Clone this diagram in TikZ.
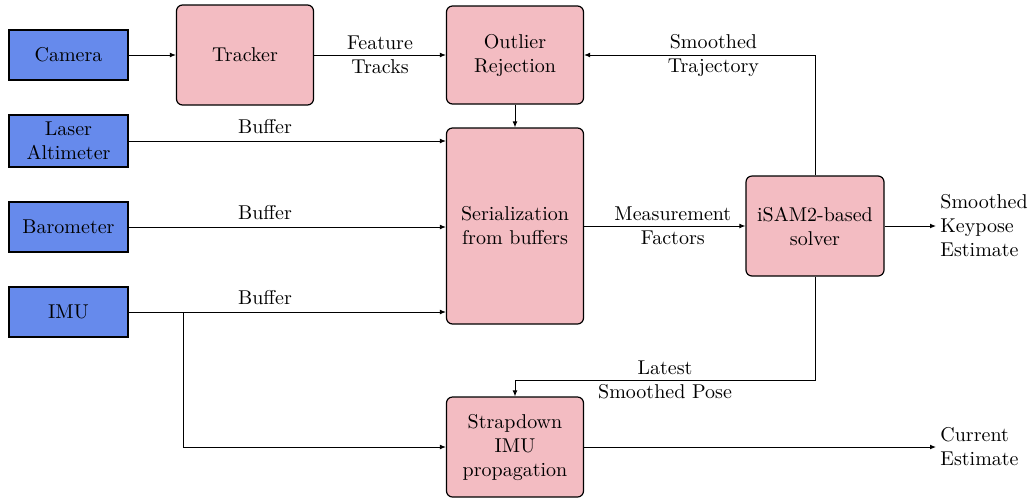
\documentclass[tikz,border=0pt]{standalone}
\usepackage{tikz}
\usetikzlibrary{arrows.meta,positioning}
\definecolor{sensorblue}{RGB}{102,138,236}
\definecolor{procpink}{RGB}{243,188,194}

\begin{document}
\begin{tikzpicture}[
    x=0.5pt, y=-0.5pt,
    sensor/.style={draw, line width=0.6pt, fill=sensorblue, minimum width=59.5pt,
                   minimum height=25pt, align=center, inner sep=1pt},
    proc/.style={draw, line width=0.6pt, fill=procpink, rounded corners=3pt,
                 minimum width=68.5pt, minimum height=50pt, align=center, inner sep=1pt},
    outtext/.style={align=left, anchor=west, inner sep=2pt},
    lbl/.style={align=center, inner sep=1pt},
    arr/.style={-{Latex[length=3pt,width=2.4pt]}, line width=0.45pt},
  ]
  \useasboundingbox (0,0) rectangle (1033,500);
  \node[sensor] (cam) at (68.5,55) {Camera};
  \node[sensor, minimum height=26pt] (laser) at (68.5,141) {Laser\\Altimeter};
  \node[sensor] (baro) at (68.5,227) {Barometer};
  \node[sensor] (imu) at (68.5,312) {IMU};
  \node[proc] (track) at (245,55) {Tracker};
  \node[proc, minimum height=49pt] (outlier) at (515,55) {Outlier\\Rejection};
  \node[proc, minimum height=98pt] (serial) at (515,226) {Serialization\\from buffers};
  \node[proc, minimum width=69pt] (isam) at (815,226) {iSAM2-based\\solver};
  \node[proc] (strap) at (515,447) {Strapdown\\IMU\\propagation};
  \node[outtext] (keypose) at (936,226) {Smoothed\\Keypose\\Estimate};
  \node[outtext] (current) at (936,447) {Current\\Estimate};
  \coordinate (tap) at (183,312);
  \coordinate (drop) at (515,380);

  \draw[arr] (cam) -- (track);
  \draw[arr] (track) -- node[lbl]{Feature\\Tracks} (outlier);
  \draw[arr] (outlier) -- (serial);
  \draw[arr] (laser) -- node[above, pos=0.43]{Buffer} (laser -| serial.west);
  \draw[arr] (baro) -- node[above, pos=0.43]{Buffer} (baro -| serial.west);
  \draw[arr] (imu) -- node[above, pos=0.43]{Buffer} (imu -| serial.west);
  \draw[arr] (tap) |- (strap);
  \draw[arr] (serial) -- node[lbl, pos=0.55]{Measurement\\Factors} (isam);
  \draw[arr] (isam) -- (keypose);
  \draw[arr] (isam.north) |- node[lbl, pos=0.72]{Smoothed\\Trajectory} (outlier);
  \draw[arr] (isam.south) |- node[lbl, pos=0.75]{Latest\\Smoothed Pose} (drop) -- (strap.north);
  \draw[arr] (strap) -- (current);
\end{tikzpicture}
\end{document}
